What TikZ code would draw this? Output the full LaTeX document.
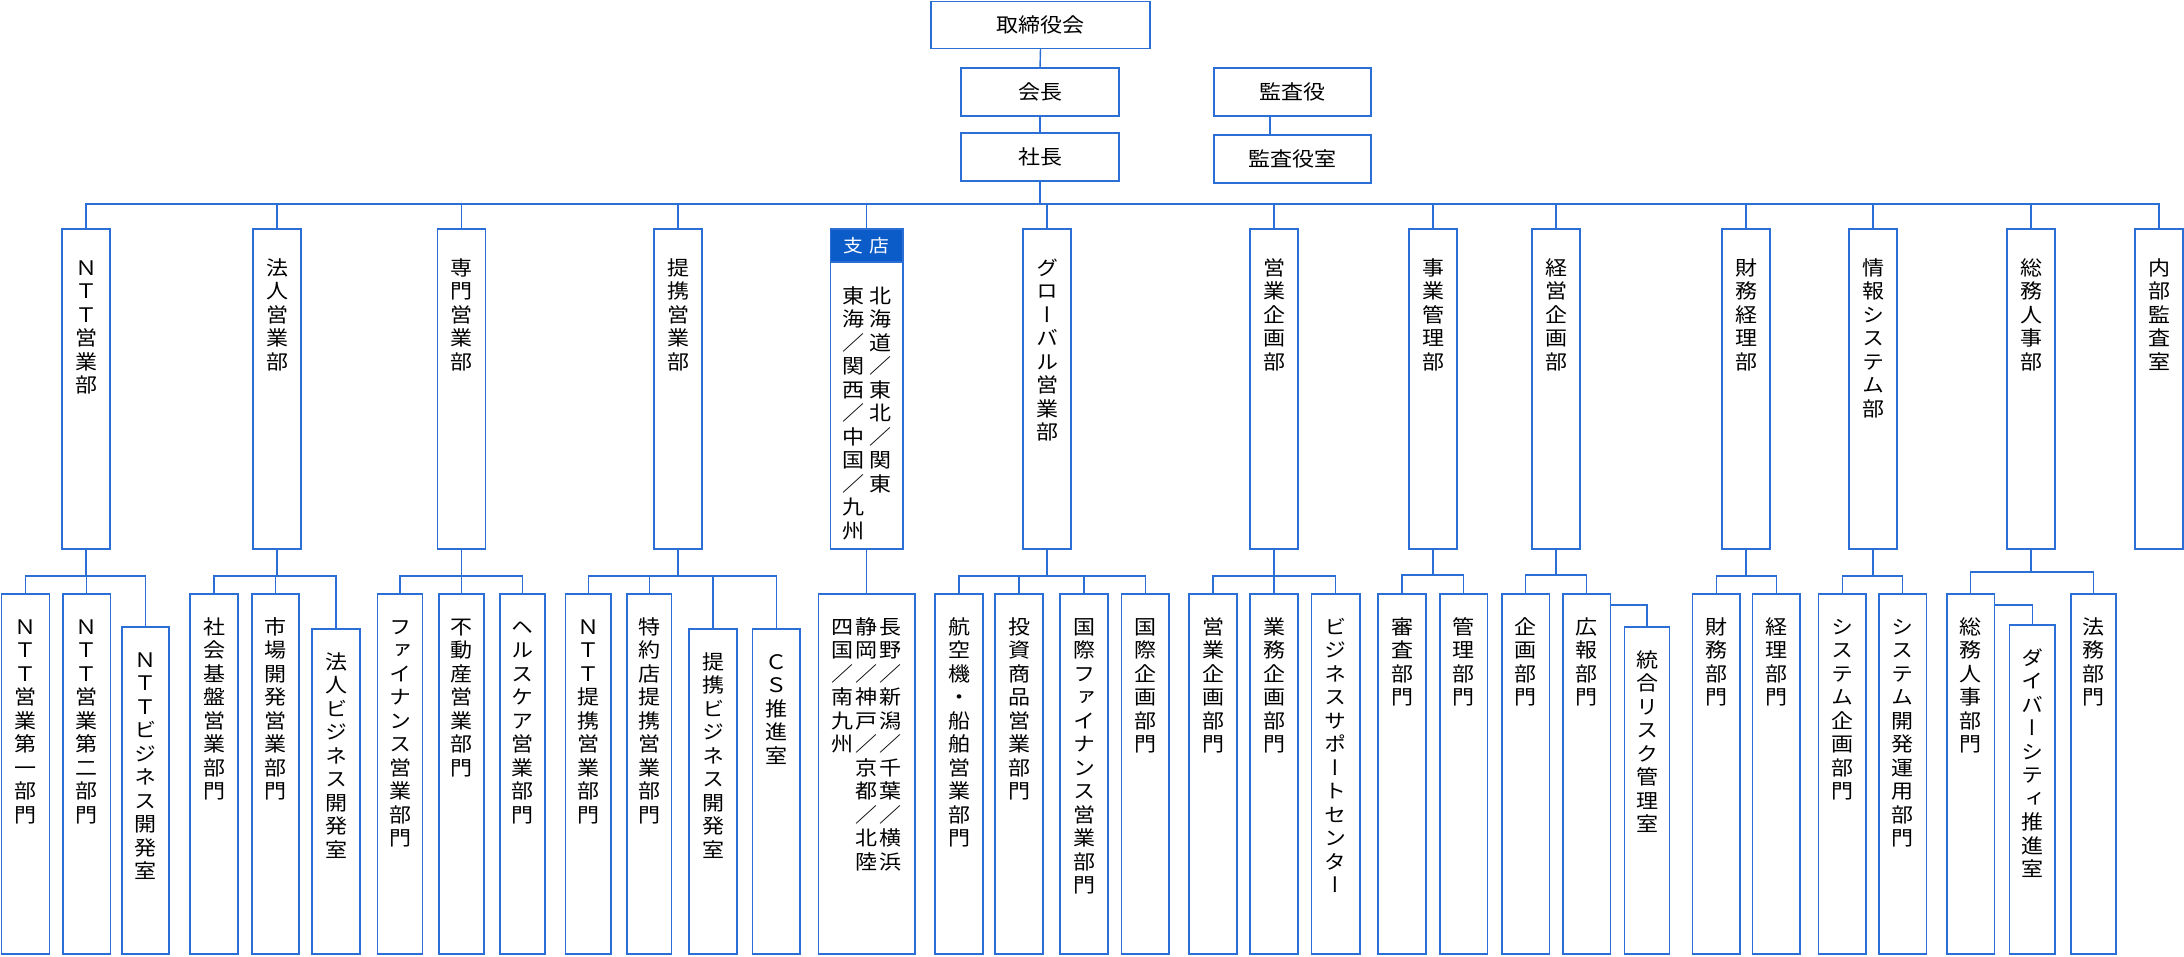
\documentclass[tikz,border=0pt]{standalone}
\usepackage{fontspec}
\newfontfamily\jp[FakeStretch=1.1]{Noto Sans CJK JP}
\newfontfamily\jpv[FakeStretch=1.1,RawFeature=+vert]{Noto Sans CJK JP}
\definecolor{lineblue}{RGB}{43,111,214}
\definecolor{headblue}{RGB}{11,91,200}
\makeatletter
\newcommand\vsl{{\jp ／}}
\newcommand\vt[1]{\vtop{\jpv\fontsize{20pt}{23.5pt}\selectfont\baselineskip=23.5pt\lineskiplimit=-100pt\lineskip=0pt\vt@#1\@nil}}
\def\vt@#1{\ifx\@nil#1\else\hbox to 24pt{\vrule width0pt height17pt depth3pt\hss#1\hss}\expandafter\vt@\fi}
\makeatother
\tikzset{
  box/.style={draw=lineblue, line width=1.8pt, fill=white, inner sep=0pt, outer sep=0pt, font=\jp\fontsize{20pt}{23.5pt}\selectfont},
  conn/.style={draw=lineblue, line width=1.4pt},
  hdr/.style={draw=lineblue, fill=headblue, line width=1.8pt, inner sep=0pt, outer sep=0pt, text=white, font=\jp\fontsize{18pt}{20pt}\selectfont}
}
\newcommand\bxh[6]{\node[box, minimum width={(#4-#2)*1pt}, minimum height={(#5-#3)*1pt}] (#1) at ({(#2+#4)/2},{(#3+#5)/2}) {#6};}
\newcommand\bxv[7]{\node[box, minimum width={(#4-#2)*1pt}, minimum height={(#5-#3)*1pt}] (#1) at ({(#2+#4)/2},{(#3+#5)/2}) {\vbox to \dimexpr#5pt-#3pt\relax{\vskip#6pt\hbox{#7}\vss}};}
\begin{document}
\begin{tikzpicture}[x=1pt,y=-1pt]
\useasboundingbox (0,0) rectangle (2184,957);
% top management
\bxh{tori}{931}{1.5}{1150}{48.5}{取締役会}
\bxh{kaicho}{961}{68}{1119}{116}{会長}
\bxh{shacho}{961}{133}{1119}{181}{社長}
\bxh{kansa}{1214}{68}{1371}{116}{監査役}
\bxh{kansashitsu}{1214}{135}{1371}{183}{監査役室}
% divisions
\bxv{ntt}{62}{229}{110}{549}{29}{\vt{ＮＴＴ営業部}}
\bxv{hojin}{253}{229}{301}{549}{29}{\vt{法人営業部}}
\bxv{senmon}{437.5}{229}{485.5}{549}{29}{\vt{専門営業部}}
\bxv{teikei}{654}{229}{702}{549}{29}{\vt{提携営業部}}
\bxv{shiten}{830.5}{229}{903}{549}{57}{\vt{東海\vsl 関西\vsl 中国\vsl 九州}\hskip3.5pt\vt{北海道\vsl 東北\vsl 関東}}
\node[hdr, minimum width=72.5pt, minimum height=33pt] (shitenh) at (866.75,245.5) {支\hspace{6pt}店};
\bxv{global}{1023}{229}{1071}{549}{29}{\vt{グローバル営業部}}
\bxv{eikika}{1250}{229}{1298}{549}{29}{\vt{営業企画部}}
\bxv{jigyo}{1409}{229}{1457}{549}{29}{\vt{事業管理部}}
\bxv{keiei}{1532}{229}{1580}{549}{29}{\vt{経営企画部}}
\bxv{zaimu}{1722}{229}{1770}{549}{29}{\vt{財務経理部}}
\bxv{joho}{1849}{229}{1897}{549}{29}{\vt{情報システム部}}
\bxv{somu}{2007}{229}{2055}{549}{29}{\vt{総務人事部}}
\bxv{naibu}{2135}{229}{2183}{549}{29}{\vt{内部監査室}}
% sections
\bxv{n1}{1.5}{594}{49.5}{954}{23}{\vt{ＮＴＴ営業第一部門}}
\bxv{n2}{63}{594}{110.5}{954}{23}{\vt{ＮＴＴ営業第二部門}}
\bxv{n3}{122}{627}{169}{954}{23}{\vt{ＮＴＴビジネス開発室}}
\bxv{h1}{190}{594}{238}{954}{23}{\vt{社会基盤営業部門}}
\bxv{h2}{252}{594}{299}{954}{23}{\vt{市場開発営業部門}}
\bxv{h3}{312}{629}{360}{954}{23}{\vt{法人ビジネス開発室}}
\bxv{s1}{377.5}{594}{422.5}{954}{23}{\vt{ファイナンス営業部門}}
\bxv{s2}{439}{594}{484}{954}{23}{\vt{不動産営業部門}}
\bxv{s3}{500}{594}{545}{954}{23}{\vt{ヘルスケア営業部門}}
\bxv{t1}{565.5}{594}{611}{954}{23}{\vt{ＮＴＴ提携営業部門}}
\bxv{t2}{627}{594}{671.5}{954}{23}{\vt{特約店提携営業部門}}
\bxv{t3}{689}{629}{737}{954}{23}{\vt{提携ビジネス開発室}}
\bxv{t4}{752.5}{629}{800}{954}{23}{\vt{ＣＳ推進室}}
\bxv{br}{818.5}{594}{915}{954}{23}{\vt{四国\vsl 南九州}\vt{静岡\vsl 神戸\vsl 京都\vsl 北陸}\vt{長野\vsl 新潟\vsl 千葉\vsl 横浜}}
\bxv{g1}{935}{594}{983}{954}{23}{\vt{航空機・船舶営業部門}}
\bxv{g2}{995}{594}{1043}{954}{23}{\vt{投資商品営業部門}}
\bxv{g3}{1060}{594}{1108}{954}{23}{\vt{国際ファイナンス営業部門}}
\bxv{g4}{1121.5}{594}{1169}{954}{23}{\vt{国際企画部門}}
\bxv{e1}{1189}{594}{1237}{954}{23}{\vt{営業企画部門}}
\bxv{e2}{1250}{594}{1298}{954}{23}{\vt{業務企画部門}}
\bxv{e3}{1311.5}{594}{1360}{954}{23}{\vt{ビジネスサポートセンター}}
\bxv{j1}{1378}{594}{1426}{954}{23}{\vt{審査部門}}
\bxv{j2}{1440}{594}{1487.5}{954}{23}{\vt{管理部門}}
\bxv{k1}{1502}{594}{1549.5}{954}{23}{\vt{企画部門}}
\bxv{k2}{1563}{594}{1610.5}{954}{23}{\vt{広報部門}}
\bxv{k3}{1624.5}{627}{1669.5}{954}{23}{\vt{統合リスク管理室}}
\bxv{z1}{1692.5}{594}{1740}{954}{23}{\vt{財務部門}}
\bxv{z2}{1752.5}{594}{1800}{954}{23}{\vt{経理部門}}
\bxv{i1}{1818.5}{594}{1866}{954}{23}{\vt{システム企画部門}}
\bxv{i2}{1879}{594}{1926.5}{954}{23}{\vt{システム開発運用部門}}
\bxv{m1}{1947}{594}{1994.5}{954}{23}{\vt{総務人事部門}}
\bxv{m2}{2009.5}{625}{2055}{954}{23}{\vt{ダイバーシティ推進室}}
\bxv{m3}{2071}{594}{2116}{954}{23}{\vt{法務部門}}
% connectors: top
\coordinate (tb) at (0,204);
\draw[conn] (tori.south) -- (kaicho.north);
\draw[conn] (kaicho.south) -- (shacho.north);
\draw[conn] ([xshift=-22.5pt]kansa.south) -- ([xshift=-22.5pt]kansashitsu.north);
\draw[conn] (shacho.south) -- (shacho.south |- tb);
\draw[conn] (ntt.north) |- (naibu.north |- tb) -- (naibu.north);
\foreach \n in {hojin,senmon,teikei,shitenh,global,eikika,jigyo,keiei,zaimu,joho,somu}
  \draw[conn] (\n.north) -- (\n.north |- tb);
% connectors: sections
\coordinate (bb) at (0,576);
\coordinate (bj) at (0,575);
\coordinate (bm) at (0,572);
\draw[conn] (ntt.south) -- (ntt.south |- bb);
\draw[conn] (n1.north) |- (n3.north |- bb) -- (n3.north);
\draw[conn] (n2.north) -- (n2.north |- bb);
\draw[conn] (hojin.south) -- (hojin.south |- bb);
\draw[conn] (h1.north) |- (h3.north |- bb) -- (h3.north);
\draw[conn] (h2.north) -- (h2.north |- bb);
\draw[conn] (senmon.south) -- (senmon.south |- bb);
\draw[conn] (s1.north) |- (s3.north |- bb) -- (s3.north);
\draw[conn] (s2.north) -- (s2.north |- bb);
\draw[conn] (teikei.south) -- (teikei.south |- bb);
\draw[conn] (t1.north) |- (t4.north |- bb) -- (t4.north);
\draw[conn] (t2.north) -- (t2.north |- bb);
\draw[conn] (t3.north) -- (t3.north |- bb);
\draw[conn] (shiten.south) -- (br.north);
\draw[conn] (global.south) -- (global.south |- bb);
\draw[conn] (g1.north) |- (g4.north |- bb) -- (g4.north);
\draw[conn] (g2.north) -- (g2.north |- bb);
\draw[conn] (g3.north) -- (g3.north |- bb);
\draw[conn] (eikika.south) -- (eikika.south |- bb);
\draw[conn] (e1.north) |- (e3.north |- bb) -- (e3.north);
\draw[conn] (e2.north) -- (e2.north |- bb);
\draw[conn] (jigyo.south) -- (jigyo.south |- bj);
\draw[conn] (j1.north) |- (j2.north |- bj) -- (j2.north);
\draw[conn] (keiei.south) -- (keiei.south |- bj);
\draw[conn] (k1.north) |- (k2.north |- bj) -- (k2.north);
\draw[conn] ([yshift=-11pt]k2.north east) -| (k3.north);
\draw[conn] (zaimu.south) -- (zaimu.south |- bb);
\draw[conn] (z1.north) |- (z2.north |- bb) -- (z2.north);
\draw[conn] (joho.south) -- (joho.south |- bb);
\draw[conn] (i1.north) |- (i2.north |- bb) -- (i2.north);
\draw[conn] (somu.south) -- (somu.south |- bm);
\draw[conn] (m1.north) |- (m3.north |- bm) -- (m3.north);
\draw[conn] ([yshift=-11pt]m1.north east) -| (m2.north);
\end{tikzpicture}
\end{document}
